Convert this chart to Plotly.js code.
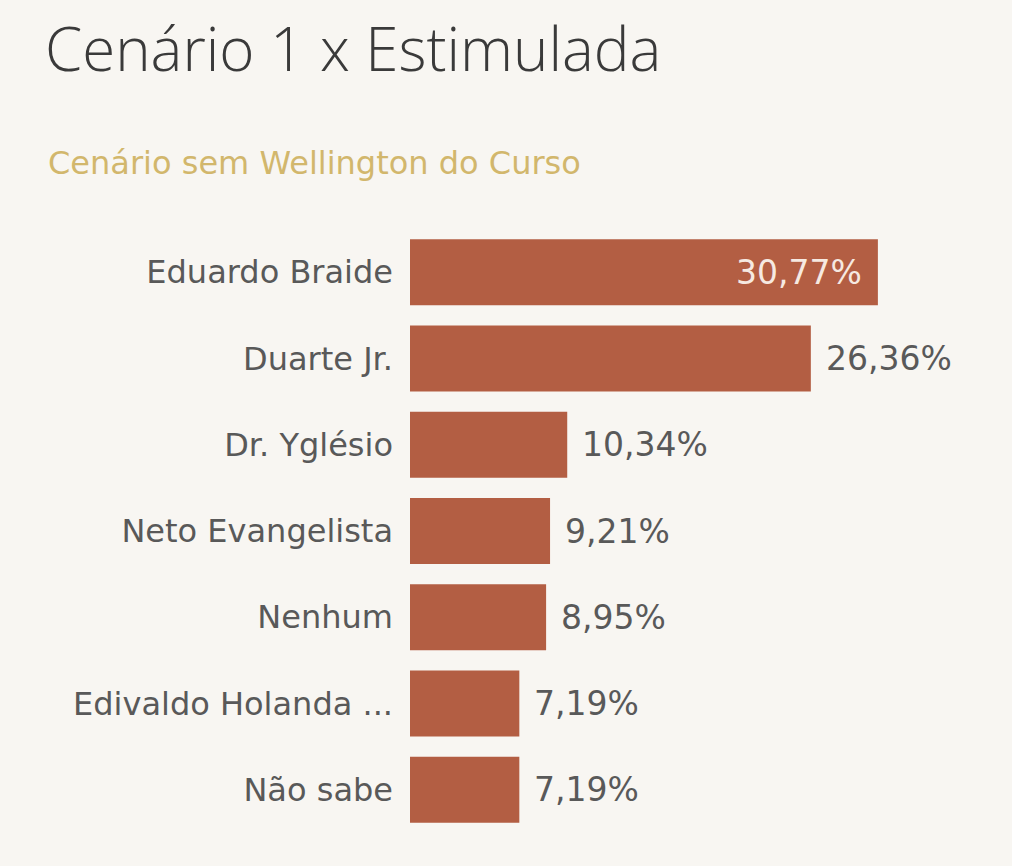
<!DOCTYPE html>
<html>
<head>
<meta charset="utf-8">
<script src="https://cdn.plot.ly/plotly-3.0.1.min.js"></script>
<style>html,body{margin:0;padding:0;background:#F8F6F2;}</style>
</head>
<body>
<div id="chart" style="width:1012px;height:866px;"></div>
<script>
const categories = ["Eduardo Braide", "Duarte Jr.", "Dr. Yglésio", "Neto Evangelista", "Nenhum", "Edivaldo Holanda ...", "Não sabe"];
const values = [30.77, 26.36, 10.34, 9.21, 8.95, 7.19, 7.19];
const labelInside = [true, false, false, false, false, false, false];

const fmt = v => v.toFixed(2).replace('.', ',') + '%';

const annotations = values.map((v, i) => ({
  x: v, y: categories[i], xref: 'x', yref: 'y',
  text: fmt(v), showarrow: false,
  xanchor: labelInside[i] ? 'right' : 'left',
  xshift: labelInside[i] ? -14 : 13,
  font: {family: 'DejaVu Sans, Verdana, sans-serif', size: 33, color: labelInside[i] ? '#F6E9E1' : '#595959'}
}));

annotations.push({
  xref: 'paper', yref: 'paper', x: (46 - 410) / 590, y: 1, yshift: 66,
  xanchor: 'left', yanchor: 'middle', showarrow: false,
  text: 'Cenário sem Wellington do Curso',
  font: {family: 'DejaVu Sans, Verdana, sans-serif', size: 32, color: '#D2B76C'}
});

const trace = {
  type: 'bar', orientation: 'h',
  x: values, y: categories,
  marker: {color: '#B35E43'},
  hoverinfo: 'none'
};

const layout = {
  width: 1012, height: 866,
  paper_bgcolor: '#F8F6F2', plot_bgcolor: '#F8F6F2',
  margin: {l: 410, r: 12, t: 229, b: 33},
  bargap: 0.235,
  showlegend: false,
  title: {
    text: 'Cenário 1 x Estimulada',
    xref: 'container', yref: 'container',
    x: 45/1012, xanchor: 'left',
    y: 1 - 50/866, yanchor: 'middle',
    font: {family: 'Open Sans, Lato, sans-serif', size: 60, color: '#3A3A3A', weight: 300}
  },
  xaxis: {range: [0, 38.8], visible: false, fixedrange: true},
  yaxis: {
    type: 'category', autorange: 'reversed',
    showgrid: false, zeroline: false, showline: false, ticks: '',
    ticklabelstandoff: 16,
    tickfont: {family: 'DejaVu Sans, Verdana, sans-serif', size: 32, color: '#595959'}
  },
  annotations: annotations
};

Plotly.newPlot('chart', [trace], layout, {displayModeBar: false, staticPlot: true});
</script>
</body>
</html>
